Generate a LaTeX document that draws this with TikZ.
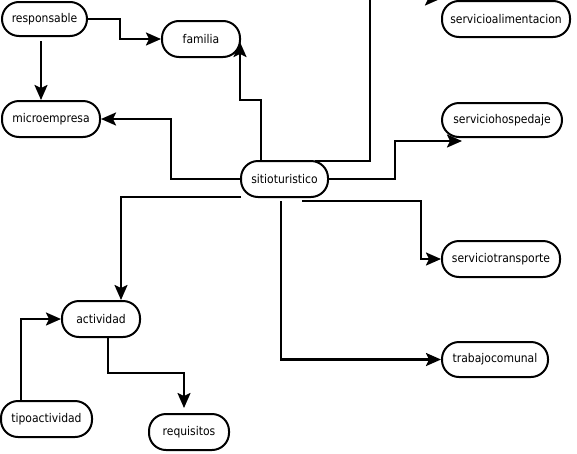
\documentclass[tikz,border=0pt]{standalone}
\usepackage{fontspec}
\setmainfont{DejaVu Sans Condensed}
\usetikzlibrary{arrows.meta}
\begin{document}
\begin{tikzpicture}[x=1pt,y=-1pt,
  box/.style={draw,line width=2pt,rounded corners=17pt,inner sep=0pt,minimum height=36pt,font=\fontsize{12}{14}\selectfont},
  arr/.style={line width=2.2pt,-{Stealth[length=15pt,width=13pt,inset=3pt]}}]
\useasboundingbox (0,0) rectangle (577,453);
\node[box,minimum width=85pt,minimum height=34pt] (responsable) at (44.5,19) {responsable};
\node[box,minimum width=78pt] (familia) at (201,39) {familia};
\node[box,minimum width=98pt] (microempresa) at (51,119) {microempresa};
\node[box,minimum width=87pt] (sitio) at (284.5,179) {sitioturistico};
\node[box,minimum width=128pt] (alim) at (506,19) {servicioalimentacion};
\node[box,minimum width=120pt,minimum height=34pt] (hosp) at (502,120) {serviciohospedaje};
\node[box,minimum width=118pt] (transp) at (501,259) {serviciotransporte};
\node[box,minimum width=106pt,minimum height=35pt] (trab) at (495,359.5) {trabajocomunal};
\node[box,minimum width=78pt] (actividad) at (101,319) {actividad};
\node[box,minimum width=91pt] (tipo) at (46.5,419) {tipoactividad};
\node[box,minimum width=80pt] (requisitos) at (189,432) {requisitos};
\coordinate (r1) at (41,41);
\coordinate (s1) at (315,161);
\coordinate (s2) at (241,197);
\coordinate (s3) at (302,201);
\coordinate (s4) at (281,201);
\coordinate (aend) at (440,-1);
\coordinate (hend) at (462,141);
\coordinate (rend) at (184,408);
% connectors
\draw[arr] (responsable.east) -- (120,19) |- (familia.west);
\draw[arr] (r1) -- (r1 |- microempresa.north);
\draw[arr] (sitio.west) -- (171,179) -- (171,119) -- (microempresa.east);
\draw[arr] (sitio.north -| 261,0) -- (261,100) -- (240,100) -- (240,42);
\draw[arr] (s1) -- (370,161) -- (370,-1) -- (aend);
\draw[arr] (sitio.east) -- (395,179) -- (395,141) -- (hend);
\draw[arr] (s3) -- (421,201) |- (transp.west);
\draw[arr] (s4) |- (trab.west);
\draw[arr] (s2) -- (121,197) -- (actividad.north -| 121,0);
\draw[arr] (tipo.north -| 21,0) |- (actividad.west);
\draw[arr] (actividad.south -| 108,0) -- (108,373) -- (184,373) -- (rend);
\end{tikzpicture}
\end{document}
